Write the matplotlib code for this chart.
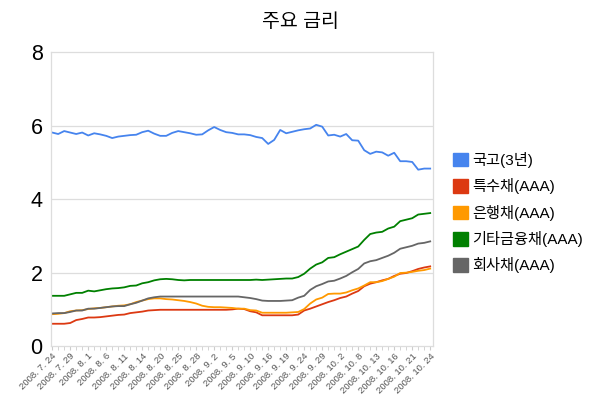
import matplotlib
matplotlib.use("Agg")
import matplotlib.pyplot as plt
from matplotlib.patches import Patch

plt.rcParams['font.family'] = ['Liberation Sans', 'Noto Sans CJK KR', 'DejaVu Sans']

title = "주요 금리"

dates = (
    ["2008. 7. %d" % d for d in [24, 25, 28, 29, 30, 31]]
    + ["2008. 8. %d" % d for d in [1, 4, 5, 6, 7, 8, 11, 12, 13, 14, 18, 19, 20, 21, 22, 25, 26, 27, 28, 29]]
    + ["2008. 9. %d" % d for d in [1, 2, 3, 4, 5, 8, 9, 10, 11, 12, 16, 17, 18, 19, 22, 23, 24, 25, 26, 29, 30]]
    + ["2008. 10. %d" % d for d in [1, 2, 6, 7, 8, 9, 10, 13, 14, 15, 16, 17, 20, 21, 22, 23, 24]]
)

series_names = ["국고(3년)", "특수채(AAA)", "은행채(AAA)", "기타금융채(AAA)", "회사채(AAA)"]

gukgo = [5.81, 5.77, 5.85, 5.81, 5.77, 5.81, 5.73, 5.79, 5.76, 5.72,
         5.66, 5.70, 5.72, 5.74, 5.75, 5.82, 5.86, 5.78, 5.72, 5.72,
         5.80, 5.85, 5.82, 5.79, 5.75, 5.76, 5.87, 5.96, 5.88, 5.82,
         5.80, 5.76, 5.76, 5.74, 5.69, 5.66, 5.50, 5.61, 5.88, 5.79,
         5.83, 5.87, 5.90, 5.92, 6.02, 5.97, 5.73, 5.75, 5.70, 5.77,
         5.60, 5.59, 5.33, 5.23, 5.29, 5.27, 5.18, 5.26, 5.03, 5.03,
         5.01, 4.80, 4.83, 4.83]

teuksu = [0.61, 0.61, 0.61, 0.63, 0.71, 0.74, 0.78, 0.78, 0.79, 0.81,
          0.83, 0.85, 0.86, 0.90, 0.92, 0.94, 0.97, 0.98, 0.99, 0.99,
          0.99, 0.99, 0.99, 0.99, 0.99, 0.99, 0.99, 0.99, 0.99, 0.99,
          1.00, 1.02, 1.01, 0.95, 0.92, 0.84, 0.84, 0.84, 0.84, 0.84,
          0.84, 0.86, 0.97, 1.02, 1.08, 1.14, 1.20, 1.25, 1.31, 1.35,
          1.43, 1.50, 1.63, 1.70, 1.74, 1.79, 1.83, 1.91, 1.97, 1.99,
          2.04, 2.10, 2.14, 2.17]

eunhaeng = [0.87, 0.88, 0.90, 0.95, 0.97, 0.98, 1.01, 1.03, 1.04, 1.06,
            1.08, 1.10, 1.11, 1.14, 1.20, 1.24, 1.28, 1.30, 1.30, 1.28,
            1.27, 1.25, 1.23, 1.20, 1.16, 1.10, 1.07, 1.06, 1.06, 1.05,
            1.04, 1.02, 1.02, 0.98, 0.97, 0.91, 0.91, 0.91, 0.91, 0.91,
            0.92, 0.93, 1.01, 1.16, 1.27, 1.32, 1.42, 1.43, 1.43, 1.46,
            1.52, 1.57, 1.65, 1.74, 1.74, 1.77, 1.83, 1.89, 1.99, 2.00,
            2.02, 2.05, 2.07, 2.11]

gita = [1.37, 1.37, 1.37, 1.41, 1.45, 1.45, 1.51, 1.49, 1.52, 1.55,
        1.57, 1.58, 1.60, 1.64, 1.65, 1.71, 1.74, 1.79, 1.82, 1.83,
        1.82, 1.80, 1.79, 1.80, 1.80, 1.80, 1.80, 1.80, 1.80, 1.80,
        1.80, 1.80, 1.80, 1.80, 1.81, 1.80, 1.81, 1.82, 1.83, 1.84,
        1.84, 1.88, 1.97, 2.11, 2.22, 2.28, 2.40, 2.42, 2.50, 2.57,
        2.64, 2.71, 2.89, 3.05, 3.09, 3.11, 3.20, 3.25, 3.40, 3.44,
        3.48, 3.58, 3.60, 3.62]

hoesa = [0.89, 0.90, 0.90, 0.93, 0.97, 0.97, 1.02, 1.02, 1.04, 1.06,
         1.08, 1.09, 1.09, 1.14, 1.18, 1.24, 1.30, 1.33, 1.35, 1.35,
         1.35, 1.35, 1.35, 1.35, 1.35, 1.35, 1.35, 1.35, 1.35, 1.35,
         1.35, 1.35, 1.33, 1.31, 1.28, 1.24, 1.23, 1.23, 1.23, 1.24,
         1.25, 1.32, 1.37, 1.53, 1.63, 1.69, 1.76, 1.78, 1.84, 1.91,
         2.01, 2.10, 2.25, 2.31, 2.34, 2.40, 2.46, 2.54, 2.65, 2.69,
         2.73, 2.79, 2.81, 2.85]

colors = ["#4684EE", "#DC3912", "#FF9900", "#008000", "#666666"]
y_ticks = [0, 2, 4, 6, 8]

fig = plt.figure(figsize=(6.0, 3.97), dpi=100)
ax = fig.add_axes([0.085, 0.128, 0.637, 0.741])

x = list(range(len(dates)))
for vals, c in zip([gukgo, teuksu, eunhaeng, gita, hoesa], colors):
    ax.plot(x, vals, color=c, lw=1.3, solid_joinstyle='round')

ax.set_xlim(-0.2, len(dates) - 1 + 0.5)
ax.set_ylim(0, 8)
ax.set_yticks(y_ticks)
ax.set_yticklabels([str(v) for v in y_ticks], fontsize=15.5, color='black')
ax.tick_params(axis='y', length=0, pad=6)
for v in y_ticks[1:-1]:
    ax.axhline(v, color='#dddddd', lw=0.9, zorder=0)

major = x[::3]
ax.set_xticks(major)
ax.set_xticklabels([dates[i] for i in major], rotation=45, ha='right', va='top',
                   rotation_mode='anchor', fontsize=6.8, color='#555555')
ax.set_xticks(x, minor=True)
ax.tick_params(axis='x', which='both', length=3, color='#cccccc', pad=1)

for s in ax.spines.values():
    s.set_color('#dddddd')
    s.set_linewidth(0.9)

fig.text(0.5, 0.945, title, ha='center', va='center', fontsize=14, color='black')

handles = [Patch(facecolor=c, edgecolor=c) for c in colors]
leg = fig.legend(handles, series_names, loc='upper left', bbox_to_anchor=(0.745, 0.633),
                 frameon=False, fontsize=11, handlelength=1.0, handleheight=1.0,
                 handletextpad=0.25, labelspacing=0.68, borderaxespad=0)

fig.savefig("out.png", dpi=100)
